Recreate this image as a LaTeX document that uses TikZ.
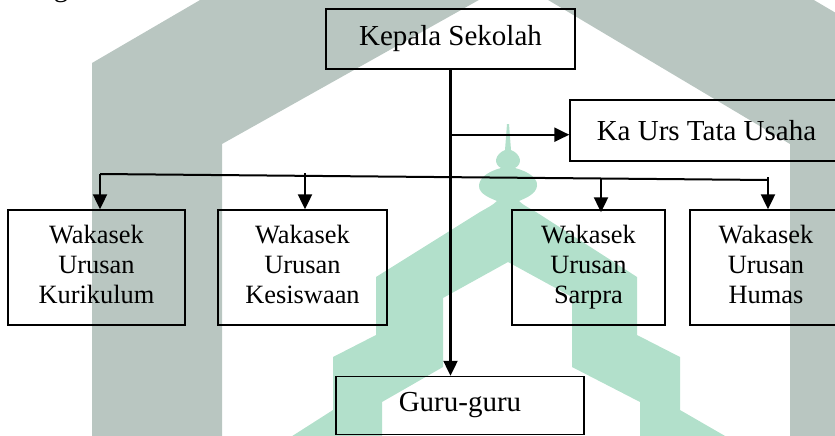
\documentclass[tikz,border=0pt]{standalone}
\usepackage{fontspec}
\setmainfont{Liberation Serif}
\usetikzlibrary{arrows.meta}
\definecolor{archgray}{RGB}{185,198,193}
\definecolor{domegreen}{RGB}{178,224,203}
\tikzset{
  box/.style={draw=black, line width=1.4pt, inner sep=0pt, align=center},
  bigtext/.style={font=\fontsize{29}{34}\selectfont},
  smalltext/.style={font=\fontsize{26.4}{30}\selectfont, text depth=7pt},
  link/.style={line width=2.2pt},
  buslink/.style={line width=2pt},
  arr/.style={link, -{Triangle[length=15pt,width=14pt]}},
}
\begin{document}
\begin{tikzpicture}[x=1pt,y=-1pt]
\useasboundingbox (0,0) rectangle (835,436);
\clip (0,0) rectangle (835,436);

% background emblem: grey arch
\fill[archgray] (92,440) -- (92,63) -- (508.4,-179.7) -- (960,86) -- (960,440)
  -- (790,440) -- (790,144) -- (514.5,-20) -- (222,144) -- (222,440) -- cycle;

% background emblem: green dome with stepped roof
\fill[domegreen] (507,124) -- (509,124) -- (511,150)
  .. controls (521,154) and (523,164) .. (515,168)
  .. controls (530,172) and (538,179) .. (537,186)
  .. controls (536,194) and (526,198) .. (519,201)
  .. controls (523,205) and (529,208) .. (536,212)
  -- (637,277) -- (637,335) -- (680,357) -- (680,410) -- (732,440)
  -- (640,440) -- (640,402) -- (572,367) -- (572,297) -- (508,262)
  -- (443,298) -- (443,367) -- (382,402) -- (382,440) -- (286,440)
  -- (333,410) -- (333,357) -- (376,335) -- (376,277) -- (480,212)
  .. controls (487,208) and (493,205) .. (497,201)
  .. controls (490,198) and (479,194) .. (479,186)
  .. controls (479,179) and (486,172) .. (501,168)
  .. controls (493,164) and (495,154) .. (505,150) -- cycle;

% descender of the caption line above
\node[anchor=base, bigtext, inner sep=0pt] (capg) at (61,-3) {g};

% organisation boxes
\node[box, bigtext, minimum width=249pt, minimum height=60pt] (kepala) at (450.5,39) {Kepala Sekolah};
\node[box, bigtext, minimum width=273pt, minimum height=61pt] (tata) at (706.5,130.5) {Ka Urs Tata Usaha};
\node[box, smalltext, minimum width=177pt, minimum height=115pt] (kur) at (96.5,267.5) {Wakasek\\Urusan\\Kurikulum};
\node[box, smalltext, minimum width=169pt, minimum height=115pt] (kes) at (302.5,267.5) {Wakasek\\Urusan\\Kesiswaan};
\node[box, smalltext, minimum width=153pt, minimum height=115pt] (sar) at (588.5,267.5) {Wakasek\\Urusan\\Sarpra};
\node[box, smalltext, minimum width=152pt, minimum height=115pt] (hum) at (766,267.5) {Wakasek\\Urusan\\Humas};
\node[box, bigtext, minimum width=248pt, minimum height=58pt] (guru) at (460,405.5) {Guru-guru};

% main line from the head down to the teachers
\draw[arr] (kepala.south) -- (kepala.south |- guru.north);

% branch to administration
\coordinate (tap) at (450,134.7);
\draw[arr] (tap) -- (tata.west |- tap);

% distribution line to the deputies
\coordinate (busL) at (100,174);
\coordinate (busR) at (768,180);
\coordinate (dropKes) at (305,173);
\coordinate (dropSar) at (601,178.5);
\coordinate (dropHum) at (768,177);
\draw[buslink] (busL) -- (busR);
\draw[arr] (busL) -- (busL |- kur.north);
\draw[arr] (dropKes) -- (dropKes |- kes.north);
\draw[arr] (dropSar) -- ([yshift=-3pt]dropSar |- sar.north);
\draw[arr] (dropHum) -- (dropHum |- hum.north);
\end{tikzpicture}
\end{document}
